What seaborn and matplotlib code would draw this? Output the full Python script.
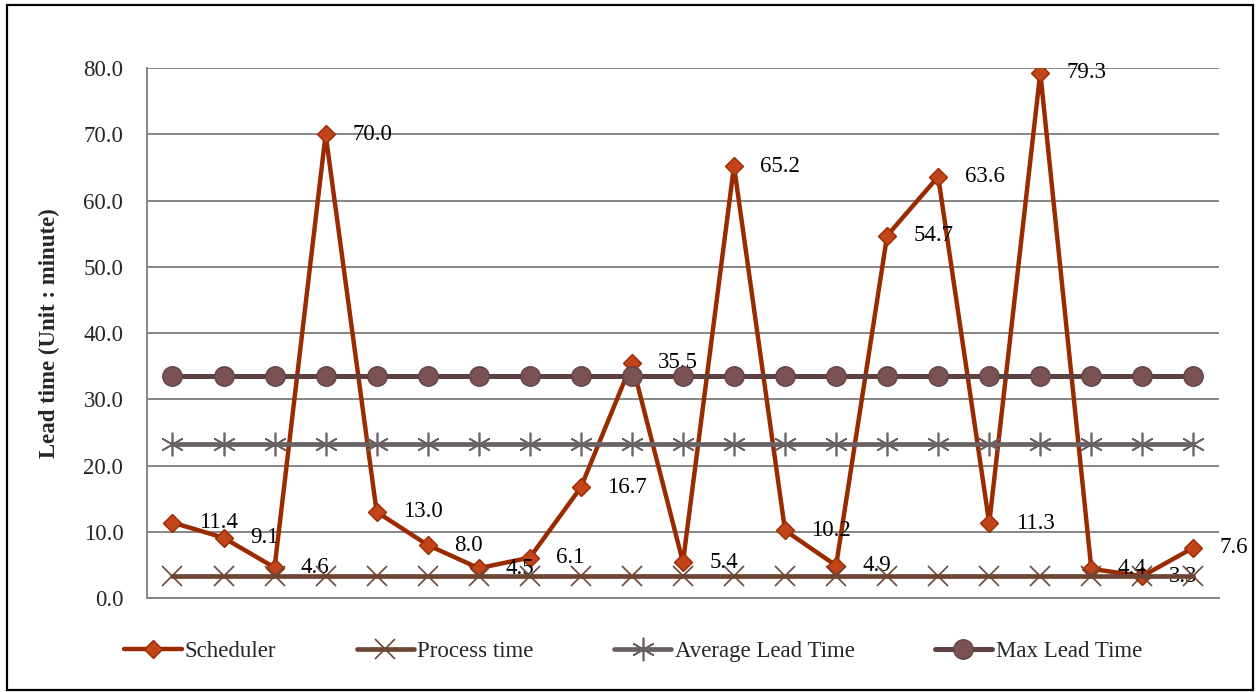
import matplotlib
matplotlib.use("Agg")
import matplotlib.pyplot as plt
from matplotlib.patches import Rectangle
import numpy as np
import pandas as pd
import seaborn as sns

# Lead time per job (minutes)
jobs = list(range(1, 22))
scheduler = [11.4, 9.1, 4.6, 70.0, 13.0, 8.0, 4.5, 6.1, 16.7, 35.5, 5.4,
             65.2, 10.2, 4.9, 54.7, 63.6, 11.3, 79.3, 4.4, 3.3, 7.6]
process_time = [3.3] * 21
average_lead = [23.3] * 21
max_lead = [33.5] * 21

y_ticks = [0, 10, 20, 30, 40, 50, 60, 70, 80]
y_label = "Lead time (Unit : minute)"
series_names = ["Scheduler", "Process time", "Average Lead Time", "Max Lead Time"]

sns.set_style("white")
plt.rcParams["font.family"] = ["Liberation Serif", "DejaVu Serif"]

df = pd.DataFrame({
    "job": jobs,
    "Scheduler": scheduler,
    "Process time": process_time,
    "Average Lead Time": average_lead,
    "Max Lead Time": max_lead,
})
df["pos"] = np.arange(len(df))

fig = plt.figure(figsize=(12.56, 6.92), dpi=100)
ax = fig.add_axes([0.117, 0.1358, 0.8535, 0.7659])

styles = {
    "Scheduler": dict(color="#9A2B00", marker="D", markersize=9.5,
                      markerfacecolor="#C2441A", markeredgecolor="#9A2B00",
                      markeredgewidth=1.0, linewidth=3.2, zorder=3),
    "Process time": dict(color="#6E4535", marker="x", markersize=14,
                         markeredgecolor="#6E4535", markeredgewidth=1.2,
                         linewidth=3.4, zorder=5),
    "Average Lead Time": dict(color="#6A6162", marker=(6, 2, 0), markersize=17,
                              markeredgecolor="#6A6162", markeredgewidth=1.2,
                              linewidth=3.4, zorder=6),
    "Max Lead Time": dict(color="#5C4042", marker="o", markersize=14,
                          markerfacecolor="#7A5253", markeredgecolor="#604446",
                          markeredgewidth=1.0, linewidth=3.6, zorder=7),
}

for name in series_names:
    sns.lineplot(data=df, x="pos", y=name, ax=ax, label=name, **styles[name])

# value labels for the scheduler series
for xi, v in zip(df["pos"], scheduler):
    ax.annotate(f"{v:.1f}", (xi, v), xytext=(19, 0), textcoords="offset points",
                ha="left", va="center", fontsize=16.5, color="black", zorder=4)

ax.set_xlim(-0.5, len(df) - 0.5)
ax.set_ylim(0, 80)
ax.set_yticks(y_ticks)
ax.set_yticklabels([f"{t:.1f}" for t in y_ticks], fontsize=16.5)
ax.set_xticks([])
ax.set_xlabel("")
ax.set_ylabel(y_label, fontsize=16.5, fontweight="bold", labelpad=17)
ax.tick_params(axis="y", length=0, pad=17)
ax.grid(axis="y", color="#868686", linewidth=1.4, zorder=0)
ax.set_axisbelow(True)
for side in ["top", "right"]:
    ax.spines[side].set_visible(False)
for side in ["left", "bottom"]:
    ax.spines[side].set_color("#868686")
    ax.spines[side].set_linewidth(1.4)

ax.get_legend().remove()
handles, labels = ax.get_legend_handles_labels()
fig.legend(handles, labels, loc="center", bbox_to_anchor=(0.504, 0.058), ncol=4,
           frameon=False, fontsize=16.5, handlelength=2.5, handletextpad=0.15,
           columnspacing=3.5)

fig.add_artist(Rectangle((0.0056, 0.003), 0.992, 0.99, transform=fig.transFigure,
                         fill=False, edgecolor="black", linewidth=1.6))

fig.savefig("out.png", dpi=100)
